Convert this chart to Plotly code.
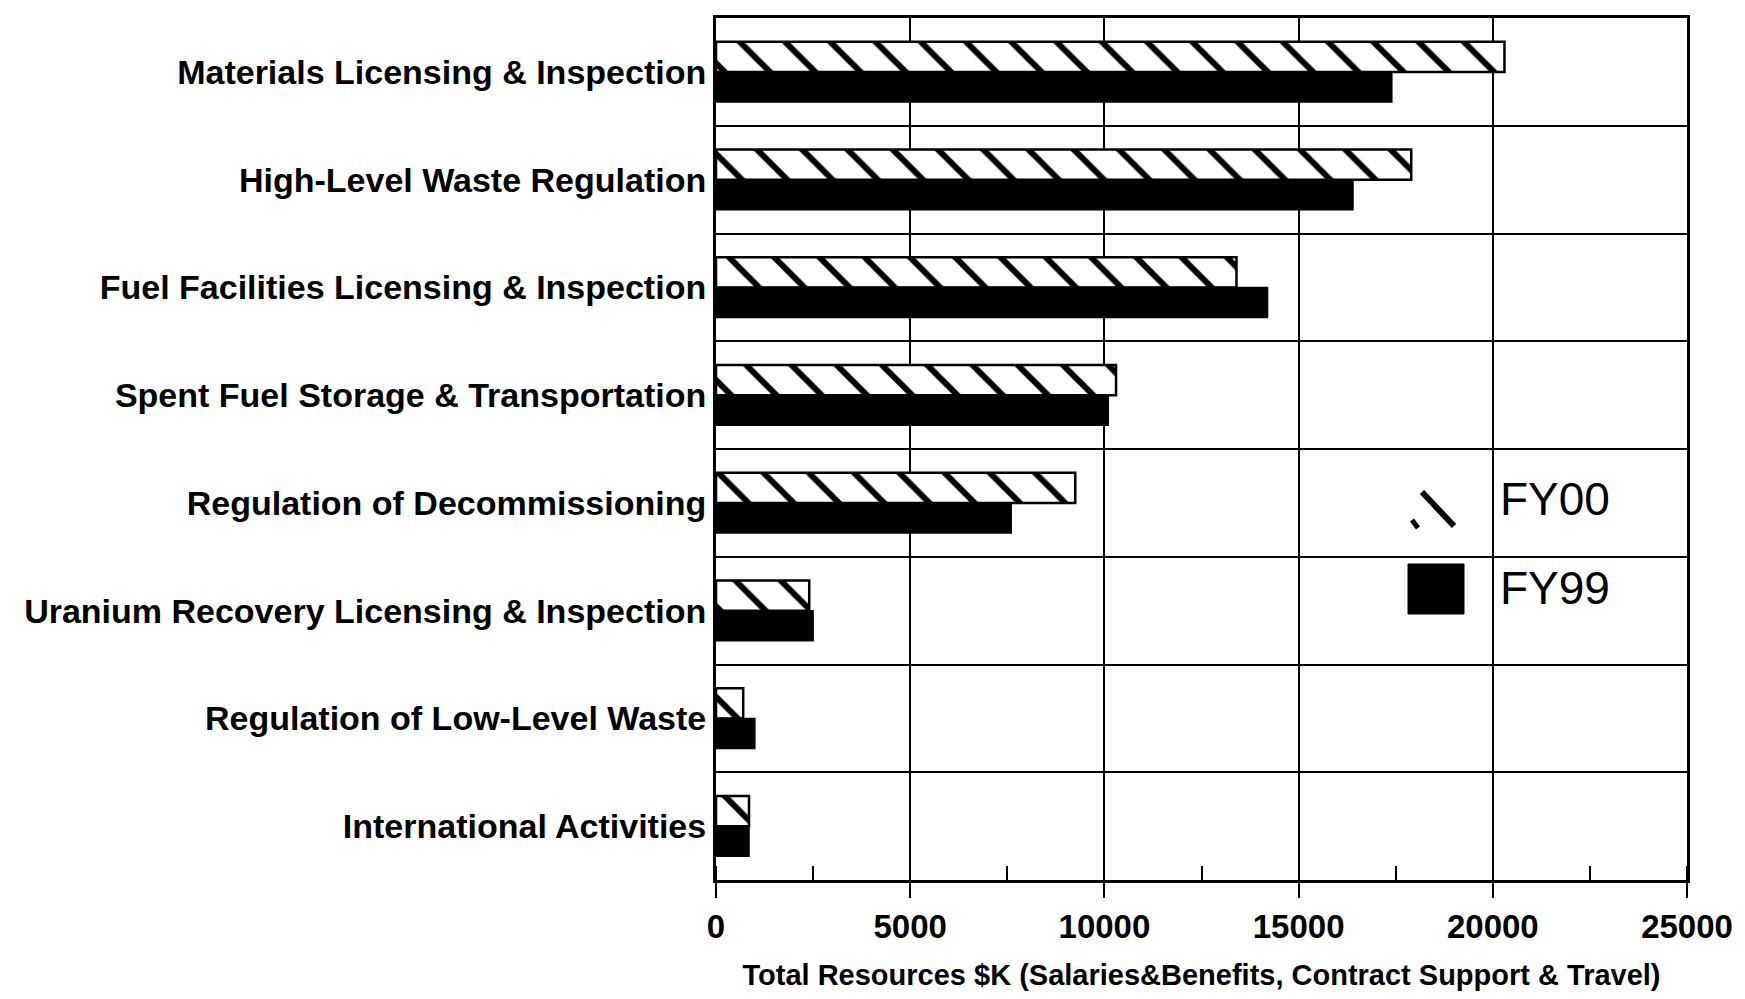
import plotly.graph_objects as go

categories = [
    "Materials Licensing & Inspection",
    "High-Level Waste Regulation",
    "Fuel Facilities Licensing & Inspection",
    "Spent Fuel Storage & Transportation",
    "Regulation of Decommissioning",
    "Uranium Recovery Licensing & Inspection",
    "Regulation of Low-Level Waste",
    "International Activities",
]
fy00 = [20300, 17900, 13400, 10300, 9250, 2400, 700, 850]
fy99 = [17400, 16400, 14200, 10100, 7600, 2500, 1000, 850]
x_ticks = [0, 5000, 10000, 15000, 20000, 25000]
x_title = "Total Resources $K (Salaries&Benefits, Contract Support & Travel)"

BOLD = "Liberation Sans, Arial, Helvetica, sans-serif"
W, H = 1745, 999
ML, MR, MT, MB = 708, 66, 10, 127

fig = go.Figure()
fig.add_trace(go.Bar(
    name="FY00", y=categories, x=fy00, orientation="h",
    marker=dict(color="white", line=dict(color="black", width=2.5),
                pattern=dict(shape="\\", size=32, solidity=0.19,
                             fgcolor="black", fgopacity=1, bgcolor="white",
                             fillmode="overlay")),
    showlegend=False,
))
fig.add_trace(go.Bar(
    name="FY99", y=categories, x=fy99, orientation="h",
    marker=dict(color="black", line=dict(color="black", width=1.5)),
    showlegend=False,
))

fig.update_layout(
    width=W, height=H,
    margin=dict(l=ML, r=MR, t=MT, b=MB, autoexpand=False),
    paper_bgcolor="white", plot_bgcolor="white",
    barmode="group", bargap=0.44, bargroupgap=0,
    font=dict(family=BOLD, color="black"),
)

fig.update_xaxes(
    range=[0, 25000], tickvals=x_ticks, ticktext=[str(v) for v in x_ticks],
    showgrid=True, gridcolor="black", gridwidth=2,
    showline=True, linecolor="black", linewidth=3, mirror=True,
    ticks="outside", ticklen=15, tickwidth=2, tickcolor="black",
    minor=dict(dtick=2500, tick0=0, ticks="inside", ticklen=14, tickwidth=2,
               tickcolor="black", showgrid=False),
    tickfont=dict(family=BOLD, size=33, color="black", weight="bold"),
    ticklabelstandoff=0,
    title=dict(text=x_title, standoff=22,
               font=dict(family=BOLD, size=29, color="black", weight="bold")),
    zeroline=False,
)
fig.update_yaxes(
    type="category", autorange="reversed", tickson="boundaries",
    showgrid=True, gridcolor="black", gridwidth=2,
    showline=True, linecolor="black", linewidth=3, mirror=True,
    ticks="", ticklabelstandoff=0,
    tickfont=dict(family=BOLD, size=34, color="black", weight="bold"),
)

# Custom legend (large swatches like the original), positioned in pixels
PW, PH = W - ML - MR, H - MT - MB
def px(x):
    return (x - ML) / PW
def py(y):
    return 1 - (y - MT) / PH

fig.add_shape(type="line", xref="paper", yref="paper",
              x0=px(1414), y0=py(484), x1=px(1446), y1=py(518),
              line=dict(color="black", width=6))
fig.add_shape(type="line", xref="paper", yref="paper",
              x0=px(1404), y0=py(512), x1=px(1410), y1=py(520),
              line=dict(color="black", width=5))
fig.add_shape(type="rect", xref="paper", yref="paper",
              x0=px(1400), y0=py(606), x1=px(1456), y1=py(556),
              fillcolor="black", line=dict(color="black", width=1))
fig.add_annotation(text="FY00", xref="paper", yref="paper", x=px(1490), y=py(491),
                   xanchor="left", yanchor="middle", showarrow=False,
                   font=dict(family=BOLD, size=46, color="black"))
fig.add_annotation(text="FY99", xref="paper", yref="paper", x=px(1490), y=py(580),
                   xanchor="left", yanchor="middle", showarrow=False,
                   font=dict(family=BOLD, size=46, color="black"))

fig.write_html("out.html")
